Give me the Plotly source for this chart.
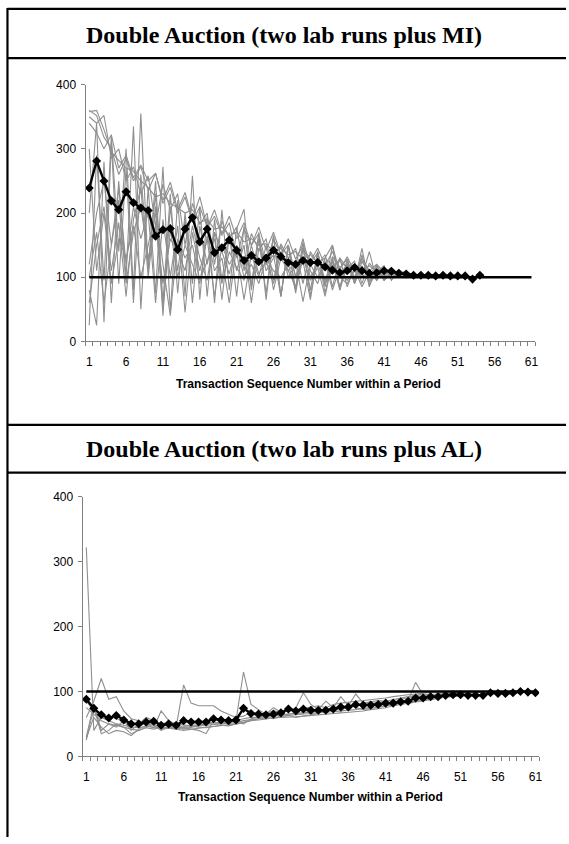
import plotly.graph_objects as go

W, H = 569, 844

# Transaction sequence numbers and labelled ticks
seq = list(range(1, 62))
tick_labels = [1, 6, 11, 16, 21, 26, 31, 36, 41, 46, 51, 56, 61]
equilibrium = [100] * 61

# ---- Panel 1: two lab runs plus MI ----
mi_mean = [239, 281, 250, 219, 205, 233, 216, 208, 204, 164, 174, 176, 143, 175, 193,
           155, 175, 138, 146, 158, 142, 126, 134, 124, 130, 142, 132, 123, 120, 126,
           123, 123, 116, 111, 107, 110, 115, 110, 106, 107, 110, 109, 106, 105, 103,
           103, 103, 102, 103, 102, 102, 102, 97, 103]

mi_p1 = [360, 352, 318, 300, 260, 285, 250, 272, 235, 262, 220, 248, 205, 232, 190, 225,
         178, 205, 168, 195, 160, 185, 150, 178, 142, 170, 135, 160, 128, 150, 125, 145,
         118, 140, 112, 132, 108, 126, 104, 118, 102, 112, 100, 108, 101, 104, 100]
mi_p2 = [358, 360, 330, 295, 282, 270, 265, 250, 240, 225, 230, 215, 208, 200, 205, 185,
         190, 175, 178, 165, 170, 155, 160, 150, 152, 140, 145, 135, 140, 128, 135, 122,
         130, 118, 125, 115, 120, 112, 118, 108, 114, 106, 110, 104, 106, 102]
mi_p3 = [350, 340, 352, 285, 300, 250, 272, 230, 258, 180, 245, 205, 230, 150, 215, 182,
         200, 120, 188, 160, 178, 110, 168, 142, 160, 95, 152, 130, 145, 90, 140, 120,
         135, 85, 130, 114, 125, 90, 122, 108, 118, 95, 112, 103]
mi_p4 = [340, 325, 300, 322, 270, 290, 255, 275, 250, 262, 215, 240, 200, 225, 185, 210,
         178, 195, 165, 185, 130, 175, 150, 168, 120, 160, 135, 150, 100, 145, 122, 138,
         90, 132, 115, 128, 95, 124, 110, 120, 108, 115, 105, 110, 102, 106, 101, 103]
mi_p5 = [25, 290, 95, 320, 140, 300, 80, 355, 110, 250, 60, 230, 75, 200, 90, 210, 70,
         190, 95, 170, 70, 180, 80, 160, 75, 165, 70, 150, 75, 145, 80, 140, 75, 130, 85,
         125, 90, 118, 92, 112, 95, 107, 101]
mi_p6 = [80, 25, 280, 60, 250, 100, 335, 50, 240, 75, 272, 45, 220, 70, 258, 65, 195, 60,
         205, 80, 175, 206, 85, 170, 65, 165, 70, 150, 80, 155, 70, 140, 85, 150, 80, 128,
         90, 135, 85, 118, 95, 110, 102, 104]
mi_p7 = [200, 340, 30, 310, 90, 270, 60, 260, 120, 230, 40, 210, 110, 190, 60, 180, 120,
         170, 65, 165, 110, 150, 60, 145, 120, 135, 70, 150, 100, 125, 65, 135, 95, 125, 80,
         120, 92, 145, 88, 108, 98, 102]
mi_p8 = [120, 200, 250, 150, 240, 120, 210, 160, 200, 60, 190, 100, 180, 45, 170, 110, 160,
         70, 150, 120, 140, 65, 135, 100, 150, 80, 130, 110, 125, 62, 120, 100, 125, 80, 115,
         95, 112, 85, 108, 98, 104, 100, 103]
mi_p9 = [300, 110, 200, 90, 160, 130, 180, 100, 150, 200, 50, 175, 100, 150, 120, 90, 165,
         110, 130, 60, 150, 100, 120, 90, 130, 110, 100, 120, 80, 130, 95, 115, 70, 125, 100,
         90, 110, 105, 95, 108, 100, 102, 101, 100, 102, 101]
mi_p10 = [60, 150, 210, 110, 185, 70, 190, 240, 100, 210, 120, 40, 160, 130, 150, 95, 125,
          160, 90, 140, 115, 95, 150, 105, 125, 90, 140, 110, 85, 145, 100, 120, 90, 110,
          130, 85, 115, 100, 140, 95, 110, 100, 105, 103, 102, 104, 101, 102, 100]
mi_p11 = [100, 170, 60, 150, 220, 90, 170, 210, 130, 180, 90, 160, 140, 110, 180, 130, 95,
          170, 140, 105, 150, 120, 90, 160, 110, 130, 150, 100, 120, 160, 110, 90, 130, 150,
          105, 120, 100, 130, 110, 95, 115, 105, 100, 108, 103, 101, 104, 102, 100, 101]

# ---- Panel 2: two lab runs plus AL ----
al_mean = [88, 74, 64, 59, 63, 56, 50, 50, 53, 54, 48, 50, 48, 55, 53, 53, 53, 58, 56, 55,
           56, 74, 66, 65, 64, 65, 67, 73, 70, 73, 71, 71, 71, 73, 76, 76, 80, 79, 79, 80,
           82, 82, 84, 85, 90, 90, 92, 92, 94, 95, 95, 94, 94, 94, 98, 97, 97, 98, 100, 99, 98]

al_p1 = [322, 40, 60, 55, 50, 48, 45, 44, 46, 45, 44, 43, 45, 44, 46, 47, 48, 48, 50, 50,
         52, 55, 57, 58, 58, 60, 62, 63, 64, 65, 66, 66, 67, 68, 70, 70, 72, 74, 75, 76, 78,
         80, 82, 84, 85, 86, 88, 90, 92, 94, 95]
al_p2 = [60, 85, 120, 88, 92, 70, 58, 55, 50, 48, 40, 45, 42, 44, 42, 40, 35, 55, 58, 55,
         52, 50, 58, 60, 62, 62, 64, 65, 66, 67, 70, 68, 72, 70, 75, 78, 80, 80, 82, 84, 85,
         86, 88, 90, 94, 92, 93, 95, 96, 97, 98, 98]
al_p3 = [30, 80, 40, 50, 45, 55, 40, 50, 60, 55, 50, 52, 45, 110, 82, 78, 78, 78, 70, 65,
         60, 62, 68, 65, 66, 70, 68, 70, 75, 98, 80, 72, 85, 75, 92, 78, 96, 82, 84, 86, 85,
         88, 90, 92, 94, 96, 95, 97, 98, 97, 99, 98]
al_p4 = [25, 75, 35, 40, 50, 45, 35, 40, 45, 50, 42, 45, 48, 42, 45, 48, 50, 52, 50, 55,
         55, 130, 80, 72, 65, 75, 68, 70, 72, 74, 76, 78, 75, 80, 82, 84, 85, 86, 87, 88, 90,
         92, 94, 95, 96, 97, 98, 100, 99, 100]
al_p5 = [85, 70, 60, 62, 58, 55, 50, 48, 50, 52, 48, 46, 45, 46, 47, 48, 50, 52, 52, 54,
         55, 58, 60, 60, 62, 63, 64, 65, 65, 66, 67, 68, 70, 72, 74, 76, 78, 80, 80, 82, 83,
         84, 85, 86, 114, 95, 92, 94, 95, 96, 98, 97, 99]
al_p6 = [28, 60, 45, 35, 40, 38, 32, 42, 48, 44, 70, 55, 50, 48, 46, 45, 44, 46, 48, 47,
         50, 52, 55, 58, 60, 58, 62, 63, 60, 62, 64, 66, 72, 70, 68, 80, 75, 72, 74, 76, 78,
         80, 82, 84, 86, 88, 90, 92, 94, 95, 100, 97, 98, 99]
al_p7 = [75, 65, 55, 50, 48, 45, 42, 40, 44, 42, 45, 44, 42, 40, 42, 44, 45, 46, 47, 48,
         50, 52, 55, 56, 58, 59, 60, 60, 61, 62, 63, 64, 65, 66, 67, 68, 68, 70, 72, 73, 75,
         78, 80, 82, 84, 86, 88, 90, 91, 92, 93, 95]

mi_periods = [mi_p1, mi_p2, mi_p3, mi_p4, mi_p5, mi_p6, mi_p7, mi_p8, mi_p9, mi_p10, mi_p11]
al_periods = [al_p1, al_p2, al_p3, al_p4, al_p5, al_p6, al_p7]

TITLE_1 = "Double Auction (two lab runs plus MI)"
TITLE_2 = "Double Auction (two lab runs plus AL)"
X_TITLE = "Transaction Sequence Number within a Period"

GRAY = "#8f8f8f"
AXIS = "#808080"
SANS = "Liberation Sans, Arial, sans-serif"
SERIF = "Liberation Serif, Times New Roman, serif"


def px_x(p):
    return p / W


def px_y(p):
    return 1 - p / H


fig = go.Figure()


def add_panel(periods, mean, xa, ya):
    for per in periods:
        fig.add_trace(go.Scatter(x=seq[:len(per)], y=per, mode="lines",
                                 line=dict(color=GRAY, width=1.1),
                                 xaxis=xa, yaxis=ya, showlegend=False, hoverinfo="skip"))
    fig.add_trace(go.Scatter(x=seq, y=equilibrium, mode="lines",
                             line=dict(color="black", width=2.6),
                             xaxis=xa, yaxis=ya, showlegend=False))
    fig.add_trace(go.Scatter(x=seq[:len(mean)], y=mean, mode="lines+markers",
                             line=dict(color="black", width=2.4),
                             marker=dict(symbol="diamond", size=7, color="black"),
                             xaxis=xa, yaxis=ya, showlegend=False))


add_panel(mi_periods, mi_mean, "x", "y")
add_panel(al_periods, al_mean, "x2", "y2")

xaxis_common = dict(
    range=[0.5, 61.5], tickmode="array", tickvals=tick_labels,
    ticks="outside", ticklen=0, showline=True, linecolor=AXIS, linewidth=1,
    showgrid=False, zeroline=False, ticklabelstandoff=9,
    tickfont=dict(family=SANS, size=12, color="black"),
    minor=dict(ticks="outside", ticklen=4, tickcolor=AXIS, tickmode="linear",
               tick0=0.5, dtick=1, showgrid=False),
)
yaxis_common = dict(
    range=[0, 400], tickvals=[0, 100, 200, 300, 400], ticks="outside", ticklen=4,
    tickcolor=AXIS, showline=True, linecolor=AXIS, linewidth=1, showgrid=False,
    zeroline=False, ticklabelstandoff=2,
    tickfont=dict(family=SANS, size=12, color="black"),
)

fig.update_layout(
    width=W, height=H, margin=dict(l=0, r=0, t=0, b=0),
    paper_bgcolor="white", plot_bgcolor="white",
    xaxis=dict(domain=[px_x(86), px_x(538)], anchor="y", **xaxis_common),
    yaxis=dict(domain=[px_y(340), px_y(79)], anchor="x", **yaxis_common),
    xaxis2=dict(domain=[px_x(83), px_x(542)], anchor="y2", **xaxis_common),
    yaxis2=dict(domain=[px_y(762), px_y(498)], anchor="x2", **yaxis_common),
)

# Frame lines around the two chart boxes
frame = [
    (7.5, 2, W, 2),
    (7.5, 52, W, 52),
    (7.5, 425, W, 425),
    (7.5, 473.5, W, 473.5),
    (7.5, 1, 7.5, H),
]
for x0, y0, x1, y1 in frame:
    fig.add_shape(type="line", xref="paper", yref="paper",
                  x0=px_x(x0), y0=px_y(y0), x1=px_x(x1), y1=px_y(y1),
                  line=dict(color="black", width=2.2))

annotations = [
    dict(text=f"<b>{TITLE_1}</b>", x=px_x(286), y=px_y(28), size=24, family=SERIF),
    dict(text=f"<b>{TITLE_2}</b>", x=px_x(286), y=px_y(449), size=24, family=SERIF),
    dict(text=f"<b>{X_TITLE}</b>", x=px_x(310), y=px_y(383), size=12, family=SANS),
    dict(text=f"<b>{X_TITLE}</b>", x=px_x(312), y=px_y(803), size=12, family=SANS),
]
for a in annotations:
    fig.add_annotation(text=a["text"], x=a["x"], y=a["y"], xref="paper", yref="paper",
                       xanchor="center", yanchor="middle", showarrow=False,
                       font=dict(family=a["family"], size=a["size"], color="black"))

fig.write_html("out.html", config={"displayModeBar": False})
